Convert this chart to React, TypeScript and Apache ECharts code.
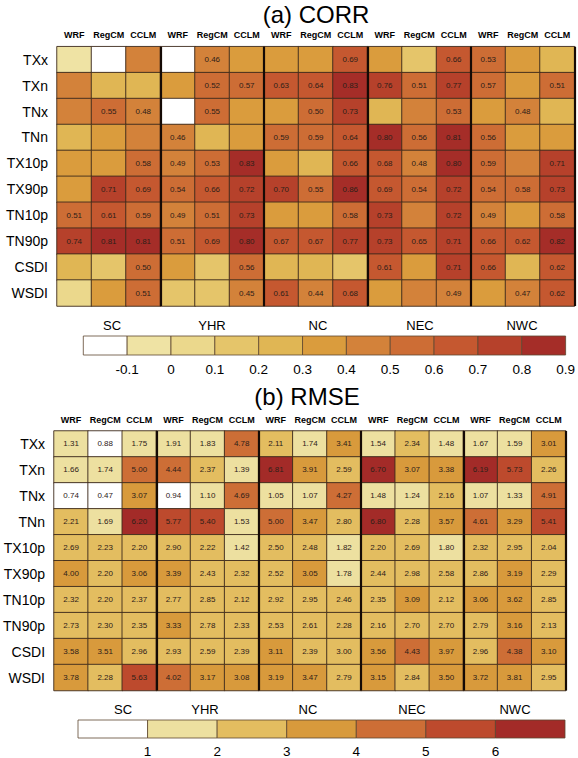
import { useEffect, useRef } from 'react'
import * as echarts from 'echarts'

const rows = ['TXx', 'TXn', 'TNx', 'TNn', 'TX10p', 'TX90p', 'TN10p', 'TN90p', 'CSDI', 'WSDI']
const regions = ['SC', 'YHR', 'NC', 'NEC', 'NWC']
const models = ['WRF', 'RegCM', 'CCLM']
const columns = regions.flatMap(() => models)

// correlation, columns: SC(WRF,RegCM,CCLM) YHR NC NEC NWC
const corrValues = [
  [-0.05, -0.15, 0.41, -0.2, 0.46, 0.35, 0.33, 0.32, 0.69, 0.36, 0.15, 0.66, 0.53, 0.34, 0.25],
  [0.41, 0.27, 0.26, 0.35, 0.52, 0.57, 0.63, 0.64, 0.83, 0.76, 0.51, 0.77, 0.57, 0.34, 0.51],
  [0.42, 0.55, 0.48, -0.12, 0.55, 0.37, 0.34, 0.5, 0.73, 0.28, 0.41, 0.53, 0.33, 0.48, 0.25],
  [0.27, 0.32, 0.4, 0.46, 0.26, 0.38, 0.59, 0.59, 0.64, 0.8, 0.56, 0.81, 0.56, 0.36, 0.31],
  [0.33, 0.35, 0.58, 0.49, 0.53, 0.83, 0.37, 0.24, 0.66, 0.68, 0.48, 0.8, 0.59, 0.42, 0.71],
  [0.39, 0.71, 0.69, 0.54, 0.66, 0.72, 0.7, 0.55, 0.86, 0.69, 0.54, 0.72, 0.54, 0.58, 0.73],
  [0.51, 0.61, 0.59, 0.49, 0.51, 0.73, 0.36, 0.33, 0.58, 0.73, 0.42, 0.72, 0.49, 0.35, 0.58],
  [0.74, 0.81, 0.81, 0.51, 0.69, 0.8, 0.67, 0.67, 0.77, 0.73, 0.65, 0.71, 0.66, 0.62, 0.82],
  [0.28, 0.18, 0.5, 0.32, 0.17, 0.56, 0.25, 0.23, 0.15, 0.61, 0.34, 0.71, 0.66, 0.22, 0.62],
  [0.05, 0.33, 0.51, 0.16, 0.14, 0.45, 0.61, 0.44, 0.68, 0.32, 0.4, 0.49, 0.34, 0.47, 0.62],
]
const corrSigLevel = 0.44 // only significant correlations are printed

const rmseValues = [
  [1.31, 0.88, 1.75, 1.91, 1.83, 4.78, 2.11, 1.74, 3.41, 1.54, 2.34, 1.48, 1.67, 1.59, 3.01],
  [1.66, 1.74, 5.0, 4.44, 2.37, 1.39, 6.81, 3.91, 2.59, 6.7, 3.07, 3.38, 6.19, 5.73, 2.26],
  [0.74, 0.47, 3.07, 0.94, 1.1, 4.69, 1.05, 1.07, 4.27, 1.48, 1.24, 2.16, 1.07, 1.33, 4.91],
  [2.21, 1.69, 6.2, 5.77, 5.4, 1.53, 5.0, 3.47, 2.8, 6.8, 2.28, 3.57, 4.61, 3.29, 5.41],
  [2.69, 2.23, 2.2, 2.9, 2.22, 1.42, 2.5, 2.48, 1.82, 2.2, 2.69, 1.8, 2.32, 2.95, 2.04],
  [4.0, 2.2, 3.06, 3.39, 2.43, 2.32, 2.52, 3.05, 1.78, 2.44, 2.98, 2.58, 2.86, 3.19, 2.29],
  [2.32, 2.2, 2.37, 2.77, 2.85, 2.12, 2.92, 2.95, 2.46, 2.35, 3.09, 2.12, 3.06, 3.62, 2.85],
  [2.73, 2.3, 2.35, 3.33, 2.78, 2.33, 2.53, 2.61, 2.28, 2.16, 2.7, 2.7, 2.79, 3.16, 2.13],
  [3.58, 3.51, 2.96, 2.93, 2.59, 2.39, 3.11, 2.39, 3.0, 3.56, 4.43, 3.97, 2.96, 4.38, 3.1],
  [3.78, 2.28, 5.63, 4.02, 3.17, 3.08, 3.19, 3.47, 2.79, 3.15, 2.84, 3.5, 3.72, 3.81, 2.95],
]

const corrBreaks = [-0.2, -0.1, 0, 0.1, 0.2, 0.3, 0.4, 0.5, 0.6, 0.7, 0.8, 0.9]
const corrColors = ['#ffffff', '#efe3a4', '#ebd88c', '#e5c56a', '#e0b654', '#da9c3d', '#d3823a', '#cd6d35', '#c55830', '#b6412b', '#a52d28']
const rmseBreaks = [0, 1, 2, 3, 4, 5, 6, 7]
const rmseColors = ['#ffffff', '#ede0a0', '#e3bd60', '#d89a3c', '#cd6e36', '#bd4a2d', '#a32b28']

const FONT = '"Liberation Sans", Arial, Helvetica, sans-serif'
const INK = '#000'
const CELL_EDGE = '#3d2a1c'

function heatCells(values: number[][]) {
  const out: number[][] = []
  values.forEach((row, r) => row.forEach((v, c) => out.push([c, r, v])))
  return out
}

function heatAxes(gridIndex: number) {
  return {
    x: {
      type: 'category',
      gridIndex,
      data: columns,
      position: 'top',
      z: 10,
      axisLine: { show: false },
      axisTick: { show: false },
      axisLabel: { interval: 0, fontSize: 9, fontWeight: 'bold', fontFamily: FONT, color: INK, margin: 7 },
      splitLine: {
        show: true,
        interval: (i: number) => i > 0 && i < columns.length && i % 3 === 0,
        lineStyle: { color: '#150a05', width: 2.2 },
      },
    },
    y: {
      type: 'category',
      gridIndex,
      data: rows,
      inverse: true,
      axisLine: { show: false },
      axisTick: { show: false },
      axisLabel: { fontSize: 14, fontFamily: FONT, color: INK, margin: 9 },
    },
  }
}

function colorbarRender(colors: string[]) {
  return (_params: any, api: any) => {
    const p0 = api.coord([api.value(0), 1])
    const p1 = api.coord([api.value(1), 0])
    return {
      type: 'rect',
      shape: { x: p0[0], y: p0[1], width: p1[0] - p0[0], height: p1[1] - p0[1] },
      style: { fill: colors[api.value(2)], stroke: '#5e4630', lineWidth: 0.8 },
    }
  }
}

function segments(breaks: number[]) {
  return breaks.slice(0, -1).map((b, i) => [b, breaks[i + 1], i])
}

function legendTexts(xs: number[], y: number) {
  return regions.map((name, i) => ({
    type: 'text',
    x: xs[i],
    y,
    style: { text: name, fontSize: 13, fontFamily: FONT, fill: INK, align: 'center', verticalAlign: 'middle' },
  }))
}

export default function App() {
  const chartRef = useRef<HTMLDivElement>(null)

  useEffect(() => {
    document.body.style.margin = '0'
    if (!chartRef.current) return
    const chart = echarts.init(chartRef.current, null, { renderer: 'svg' })

    const a = heatAxes(0)
    const b = heatAxes(1)

    const corrPieces = corrColors.map((color, i) =>
      i === 0 ? { lt: corrBreaks[1], color }
        : i === corrColors.length - 1 ? { gte: corrBreaks[i], color }
          : { gte: corrBreaks[i], lt: corrBreaks[i + 1], color })
    const rmsePieces = rmseColors.map((color, i) =>
      i === 0 ? { lte: rmseBreaks[1], color }
        : i === rmseColors.length - 1 ? { gt: rmseBreaks[i], color }
          : { gt: rmseBreaks[i], lte: rmseBreaks[i + 1], color })

    chart.setOption({
      animation: false,
      textStyle: { fontFamily: FONT },
      grid: [
        { left: 57, top: 46.7, width: 517.5, height: 259.3 },
        { left: 48.3, top: 431, width: 517.5, height: 259.5 },
        { left: 83.3, top: 336, width: 486, height: 19 },
        { left: 78, top: 720, width: 487, height: 19 },
      ],
      xAxis: [
        a.x,
        b.x,
        {
          type: 'value', gridIndex: 2, min: -0.2, max: 0.9, interval: 0.1,
          axisLine: { show: false }, axisTick: { show: false }, splitLine: { show: false },
          axisLabel: {
            fontSize: 13.5, fontFamily: FONT, color: INK, margin: 7,
            formatter: (v: number) => (v < -0.15 ? '' : String(Math.round(v * 10) / 10)),
          },
        },
        {
          type: 'value', gridIndex: 3, min: 0, max: 7, interval: 1,
          axisLine: { show: false }, axisTick: { show: false }, splitLine: { show: false },
          axisLabel: {
            fontSize: 13.5, fontFamily: FONT, color: INK, margin: 6,
            formatter: (v: number) => (v < 0.5 || v > 6.5 ? '' : String(v)),
          },
        },
      ],
      yAxis: [
        a.y,
        b.y,
        { type: 'value', gridIndex: 2, min: 0, max: 1, show: false },
        { type: 'value', gridIndex: 3, min: 0, max: 1, show: false },
      ],
      visualMap: [
        { type: 'piecewise', show: false, seriesIndex: 0, dimension: 2, pieces: corrPieces },
        { type: 'piecewise', show: false, seriesIndex: 1, dimension: 2, pieces: rmsePieces },
      ],
      graphic: [
        {
          type: 'text', x: 316, y: 14,
          style: { text: '(a) CORR', fontSize: 24, fontFamily: FONT, fill: INK, align: 'center', verticalAlign: 'middle' },
        },
        {
          type: 'text', x: 307, y: 396,
          style: { text: '(b) RMSE', fontSize: 24, fontFamily: FONT, fill: INK, align: 'center', verticalAlign: 'middle' },
        },
        ...legendTexts([112, 212, 318, 420, 522], 325),
        ...legendTexts([123, 205, 308, 412, 515], 709),
      ],
      series: [
        {
          type: 'heatmap',
          xAxisIndex: 0,
          yAxisIndex: 0,
          data: heatCells(corrValues),
          itemStyle: { borderColor: CELL_EDGE, borderWidth: 0.9 },
          label: {
            show: true, fontSize: 8, fontFamily: FONT, color: '#2e2018',
            formatter: (p: any) => (p.value[2] >= corrSigLevel ? p.value[2].toFixed(2) : ''),
          },
          emphasis: { disabled: true },
        },
        {
          type: 'heatmap',
          xAxisIndex: 1,
          yAxisIndex: 1,
          data: heatCells(rmseValues),
          itemStyle: { borderColor: CELL_EDGE, borderWidth: 0.9 },
          label: {
            show: true, fontSize: 8, fontFamily: FONT, color: '#2e2018',
            formatter: (p: any) => p.value[2].toFixed(2),
          },
          emphasis: { disabled: true },
        },
        {
          type: 'custom',
          xAxisIndex: 2,
          yAxisIndex: 2,
          data: segments(corrBreaks),
          renderItem: colorbarRender(corrColors),
        },
        {
          type: 'custom',
          xAxisIndex: 3,
          yAxisIndex: 3,
          data: segments(rmseBreaks),
          renderItem: colorbarRender(rmseColors),
        },
      ],
    })

    return () => {
      chart.dispose()
    }
  }, [])

  return <div ref={chartRef} style={{ width: 578, height: 758 }} />
}
